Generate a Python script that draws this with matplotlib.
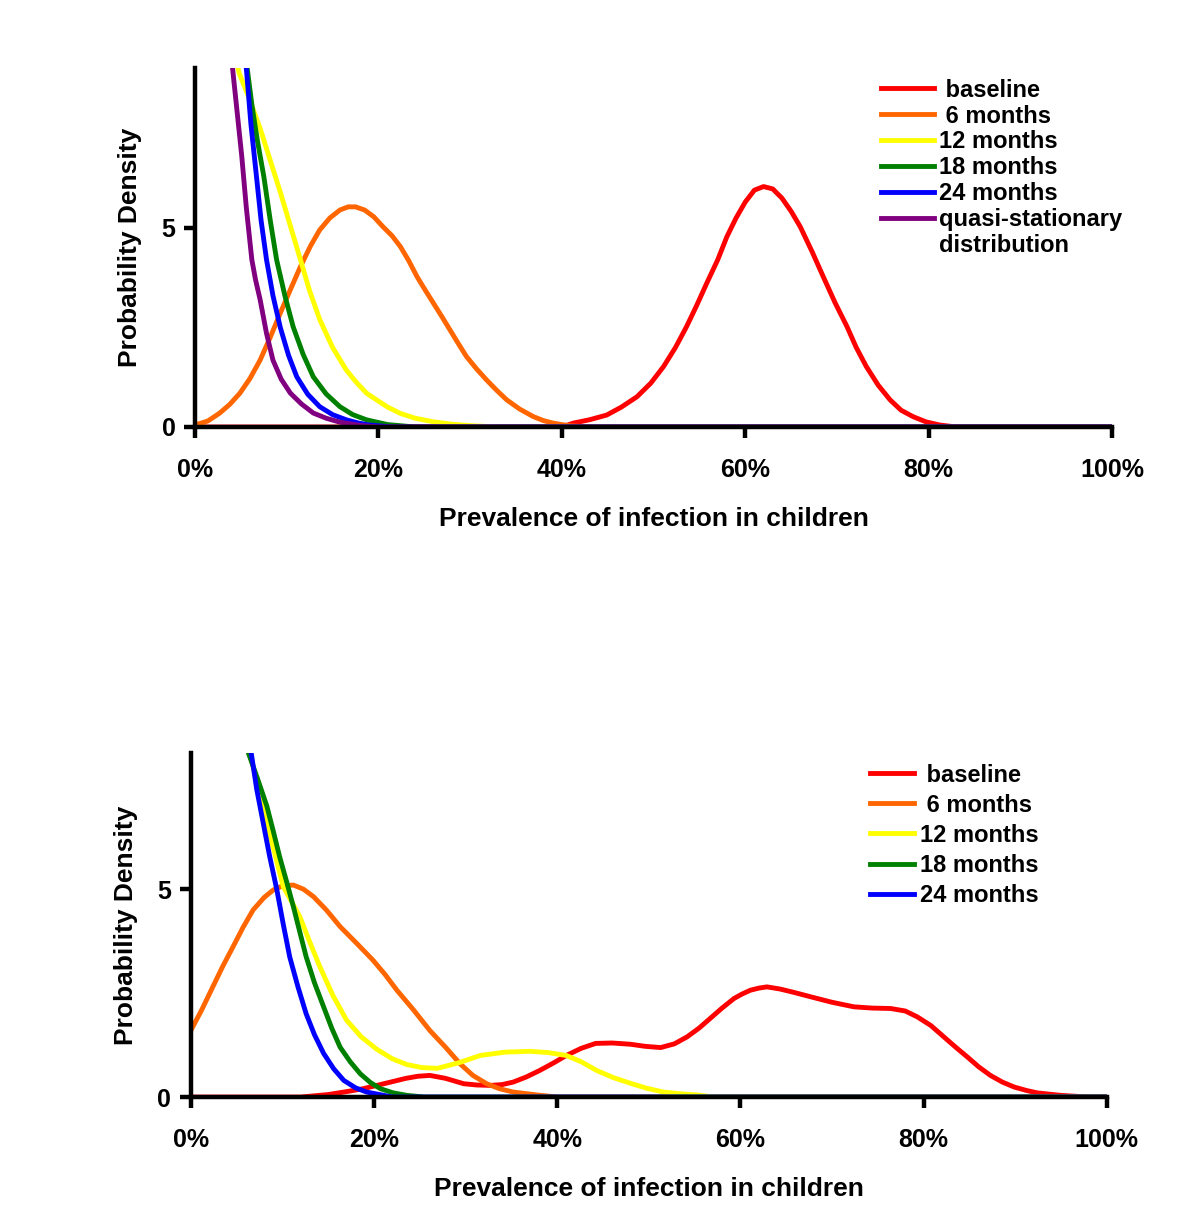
import matplotlib
matplotlib.use('Agg')
import matplotlib.pyplot as plt
from matplotlib.lines import Line2D

plt.rcParams['font.family'] = ['Liberation Sans', 'DejaVu Sans']
plt.rcParams['font.weight'] = 'bold'

# ---- top panel: prevalence in %, probability density ----
top_base_x = [0, 40, 41.3, 43, 44.9, 46.5, 48.2, 49.7, 51.1, 52.4, 53.6, 54.7, 55.8, 57, 58, 59, 60, 61, 62, 63, 64,
              65, 66, 67.3, 68.5, 69.8, 71.1, 72.1, 73.2, 74.5, 75.8, 77, 78.3, 79.7, 81.2, 83, 100]
top_base_y = [0, 0, 0.1, 0.18, 0.3, 0.5, 0.76, 1.1, 1.52, 2.0, 2.52, 3.05, 3.61, 4.2, 4.78, 5.25, 5.65, 5.95, 6.04,
              5.98, 5.75, 5.42, 5.03, 4.4, 3.78, 3.12, 2.52, 2.0, 1.52, 1.05, 0.68, 0.42, 0.26, 0.13, 0.05, 0, 0]

top_m6_x = [0, 1.4, 2.7, 3.8, 4.9, 6, 7.1, 8.2, 9.3, 10.4, 11.5, 12.6, 13.6, 14.7, 15.8, 16.7, 17.5, 18.5, 19.5,
            20.5, 21.5, 22.4, 23.3, 24.2, 25.1, 26, 26.9, 27.8, 28.7, 29.6, 30.7, 31.8, 32.9, 34, 35.4, 36.9,
            38, 39, 40, 41, 43, 100]
top_m6_y = [0.05, 0.15, 0.35, 0.57, 0.85, 1.22, 1.68, 2.25, 2.86, 3.45, 4.03, 4.55, 4.95, 5.25, 5.45, 5.53, 5.53,
            5.45, 5.28, 5.03, 4.8, 4.53, 4.18, 3.78, 3.44, 3.11, 2.78, 2.44, 2.1, 1.77, 1.46, 1.18, 0.92, 0.68,
            0.45, 0.26, 0.16, 0.1, 0.06, 0.03, 0, 0]

top_m12_x = [4.6, 4.8, 6, 7.1, 8.2, 9.3, 10.4, 11.5, 12.5, 13.6, 15, 16.5, 17.6, 18.7, 19.8, 21, 22.4, 24, 26, 28,
             30.3, 33, 100]
top_m12_y = [9.1, 8.9, 8.2, 7.5, 6.7, 5.9, 5.05, 4.2, 3.42, 2.7, 2.0, 1.43, 1.12, 0.85, 0.68, 0.5, 0.34, 0.22,
             0.13, 0.07, 0.03, 0, 0]

top_m18_x = [5.5, 5.7, 6.2, 6.8, 7.5, 8.2, 8.9, 9.8, 10.7, 11.8, 12.9, 14.3, 15.8, 17.2, 18.7, 21, 24, 100]
top_m18_y = [9.3, 9.0, 8.1, 7.2, 6.3, 5.2, 4.2, 3.3, 2.52, 1.82, 1.26, 0.83, 0.51, 0.31, 0.18, 0.06, 0, 0]

top_m24_x = [5.5, 5.6, 6.1, 6.7, 7.2, 7.8, 8.5, 9.3, 10.2, 11.1, 12.3, 13.6, 15, 16.5, 17.8, 19, 21.5, 100]
top_m24_y = [9.3, 9.0, 7.6, 6.3, 5.2, 4.2, 3.3, 2.5, 1.8, 1.26, 0.82, 0.51, 0.31, 0.18, 0.1, 0.05, 0, 0]

top_qsd_x = [4.0, 4.1, 4.6, 5.1, 5.6, 6.2, 6.6, 7.1, 7.8, 8.5, 9.4, 10.4, 11.6, 12.9, 14.3, 15.8, 18, 20, 100]
top_qsd_y = [9.3, 9.0, 7.9, 6.8, 5.5, 4.2, 3.7, 3.2, 2.35, 1.68, 1.2, 0.85, 0.58, 0.35, 0.22, 0.12, 0.04, 0, 0]

# ---- bottom panel ----
bot_base_x = [0, 12, 15, 17, 18.8, 20.7, 22, 23.5, 24.8, 26.1, 27.8, 29.8, 31.2, 32.7, 34, 35.2, 36.6, 38.1, 39.6,
              41, 42.6, 44.2, 46, 48, 49.6, 51.3, 52.8, 54.2, 55.5, 56.7, 58, 59.3, 60.2, 61.1, 62, 62.9, 64.3,
              65.8, 67.7, 70, 72.4, 74.4, 76.4, 78, 79.3, 80.8, 82.2, 83.5, 84.8, 86, 87.3, 88.6, 89.9, 91.2,
              92.4, 95, 98, 100]
bot_base_y = [0, 0, 0.06, 0.13, 0.2, 0.3, 0.37, 0.45, 0.5, 0.52, 0.45, 0.32, 0.29, 0.28, 0.3, 0.36, 0.48, 0.64,
              0.82, 1.0, 1.17, 1.29, 1.3, 1.27, 1.22, 1.19, 1.28, 1.45, 1.66, 1.89, 2.14, 2.37, 2.48, 2.57, 2.62,
              2.65, 2.6, 2.52, 2.41, 2.28, 2.17, 2.14, 2.13, 2.07, 1.93, 1.72, 1.45, 1.2, 0.96, 0.73, 0.52, 0.36,
              0.24, 0.16, 0.1, 0.04, 0, 0]

bot_m6_x = [0, 1.2, 2.4, 3.5, 4.6, 5.7, 6.8, 8, 9, 10, 11.2, 12.3, 13.4, 14.8, 16.3, 18.1, 19.9, 21.2, 22.5, 24.3,
            26.1, 27.8, 29.4, 30.8, 32.3, 33.7, 35.2, 37.8, 40, 100]
bot_m6_y = [1.6, 2.1, 2.65, 3.15, 3.61, 4.08, 4.5, 4.8, 4.98, 5.08, 5.1, 5.0, 4.82, 4.5, 4.1, 3.7, 3.29, 2.95,
            2.57, 2.1, 1.6, 1.2, 0.8, 0.52, 0.32, 0.2, 0.12, 0.05, 0, 0]

bot_m12_x = [6.4, 8.3, 10.1, 11.9, 13, 14.1, 15.5, 17, 18.6, 20.3, 22, 23.6, 25.2, 26.9, 29.2, 31.6, 34.3, 37,
             39, 41, 42.7, 44.3, 46.1, 48, 49.8, 51.6, 53.4, 55.3, 57, 100]
bot_m12_y = [8.3, 6.6, 5.06, 4.34, 3.72, 3.13, 2.45, 1.85, 1.45, 1.15, 0.92, 0.78, 0.71, 0.69, 0.82, 1.0, 1.08,
             1.1, 1.07, 1.0, 0.84, 0.64, 0.47, 0.33, 0.21, 0.12, 0.08, 0.05, 0, 0]

bot_m18_x = [6.2, 6.3, 7.3, 8.3, 9.0, 9.7, 10.5, 11.2, 11.9, 12.6, 13.5, 14.5, 15.4, 16.3, 17.4, 18.5, 19.6, 20.7,
             22.1, 23.6, 25.5, 100]
bot_m18_y = [8.5, 8.27, 7.65, 7.0, 6.4, 5.78, 5.15, 4.58, 3.97, 3.37, 2.75, 2.17, 1.65, 1.2, 0.85, 0.56, 0.35,
             0.2, 0.1, 0.04, 0, 0]

bot_m24_x = [6.5, 6.6, 7.2, 7.9, 8.6, 9.4, 10.1, 10.8, 11.7, 12.6, 13.5, 14.5, 15.6, 16.7, 18, 19.2, 22, 100]
bot_m24_y = [8.5, 8.27, 7.4, 6.6, 5.8, 4.98, 4.15, 3.37, 2.65, 2.0, 1.5, 1.05, 0.68, 0.4, 0.22, 0.12, 0, 0]

labels = [' baseline', ' 6 months', '12 months', '18 months', '24 months', 'quasi-stationary']
colors = ['#ff0000', '#ff6600', '#ffff00', '#008000', '#0000ff', '#800080']
xticks = [0, 20, 40, 60, 80, 100]
xticklabels = ['0%', '20%', '40%', '60%', '80%', '100%']

top_series = [(top_base_x, top_base_y), (top_m6_x, top_m6_y), (top_m12_x, top_m12_y),
              (top_m18_x, top_m18_y), (top_m24_x, top_m24_y), (top_qsd_x, top_qsd_y)]
bot_series = [(bot_base_x, bot_base_y), (bot_m6_x, bot_m6_y), (bot_m12_x, bot_m12_y),
              (bot_m18_x, bot_m18_y), (bot_m24_x, bot_m24_y)]

fig = plt.figure(figsize=(12, 12.13), dpi=100)
ax1 = fig.add_axes([0.1625, 0.648, 0.7642, 0.296])
ax2 = fig.add_axes([0.159, 0.0956, 0.7633, 0.2834])


def style(ax, ymax):
    ax.set_xlim(0, 100)
    ax.set_ylim(0, ymax)
    for s in ['top', 'right']:
        ax.spines[s].set_visible(False)
    for s in ['left', 'bottom']:
        ax.spines[s].set_linewidth(3.2)
    ax.set_xticks(xticks)
    ax.set_xticklabels(xticklabels, fontsize=18, fontweight='bold')
    ax.set_yticks([0, 5])
    ax.set_yticklabels(['0', '5'], fontsize=18, fontweight='bold')
    ax.tick_params(axis='x', length=8, width=3.2, pad=14)
    ax.tick_params(axis='y', length=8, width=3.2, pad=6)
    ax.set_xlabel('Prevalence of infection in children', fontsize=19, fontweight='bold', labelpad=18)
    ax.set_ylabel('Probability Density', fontsize=19, fontweight='bold', labelpad=14)


for (x, y), c, lab in zip(top_series, colors, labels):
    ax1.plot(x, y, color=c, lw=3.5, label=lab, solid_joinstyle='round')
style(ax1, 9.02)
h1, l1 = ax1.get_legend_handles_labels()
h1.append(Line2D([], [], color='none'))
l1.append('distribution')
ax1.legend(h1, l1, loc='upper left', bbox_to_anchor=(0.748, 0.97), frameon=False,
           fontsize=17, handlelength=2.25, handletextpad=0.2, labelspacing=0.12, borderpad=0,
           borderaxespad=0)

for (x, y), c, lab in zip(bot_series, colors, labels):
    ax2.plot(x, y, color=c, lw=3.5, label=lab, solid_joinstyle='round')
style(ax2, 8.27)
ax2.legend(loc='upper left', bbox_to_anchor=(0.742, 0.97), frameon=False,
           fontsize=17, handlelength=1.85, handletextpad=0.25, labelspacing=0.3, borderpad=0,
           borderaxespad=0)

fig.savefig('out.png', dpi=100)
